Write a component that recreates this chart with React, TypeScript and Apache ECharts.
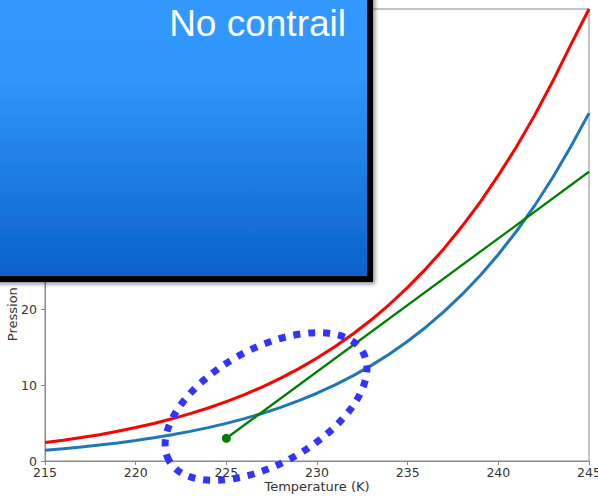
import React, { useEffect, useRef } from "react";
import * as echarts from "echarts";

// Temperature (K)
const temperatures = [
  215, 216, 217, 218, 219, 220, 221, 222, 223, 224, 225, 226, 227, 228, 229, 230,
  231, 232, 233, 234, 235, 236, 237, 238, 239, 240, 241, 242, 243, 244, 245,
];
// Saturation pressure over liquid water (red)
const liquidPressure = [
  2.45, 2.75, 3.1, 3.48, 3.92, 4.42, 4.96, 5.57, 6.25, 7.0, 7.84, 8.77, 9.8, 10.94,
  12.2, 13.6, 15.13, 16.8, 18.65, 20.7, 22.93, 25.38, 28.05, 31.0, 34.2, 37.72,
  41.5, 45.65, 50.15, 55.0, 59.7,
];
// Saturation pressure over ice (blue)
const icePressure = [
  1.43, 1.63, 1.85, 2.1, 2.38, 2.7, 3.06, 3.46, 3.91, 4.41, 4.97, 5.6, 6.3, 7.09,
  7.97, 8.95, 10.05, 11.27, 12.63, 14.14, 15.82, 17.67, 19.72, 22.0, 24.5, 27.28,
  30.34, 33.72, 37.44, 41.53, 45.95,
];
// Mixing line (green)
const mixingT = [225, 245];
const mixingP = [3.0, 38.2];

const xTicks = { min: 215, max: 245, interval: 5 };
const yTicks = { min: 0, max: 59.7, interval: 10 };

const xLabel = "Temperature (K)";
const yLabel = "Pression de vapeur saturante (Pa)";
const boxText = "No contrail";

export default function App() {
  const ref = useRef<HTMLDivElement>(null);

  useEffect(() => {
    if (!ref.current) return;
    const chart = echarts.init(ref.current, undefined, { renderer: "svg" });

    const liquidData = temperatures.map((t, i) => [t, liquidPressure[i]]);
    const iceData = temperatures.map((t, i) => [t, icePressure[i]]);
    const mixingData = mixingT.map((t, i) =>
      i === 0
        ? { value: [t, mixingP[i]], symbol: "circle", symbolSize: 9 }
        : { value: [t, mixingP[i]], symbol: "none" }
    );

    const axisColor = "#8a8a8a";
    const labelFont = "DejaVu Sans";

    chart.setOption({
      animation: false,
      backgroundColor: "#ffffff",
      grid: {
        left: 45,
        right: 9,
        top: 9,
        bottom: 36,
        containLabel: false,
        outerBoundsMode: "none",
        show: true,
        borderColor: axisColor,
        borderWidth: 1,
        backgroundColor: "transparent",
      },
      xAxis: {
        type: "value",
        min: xTicks.min,
        max: xTicks.max,
        interval: xTicks.interval,
        name: xLabel,
        nameLocation: "middle",
        nameGap: 19,
        nameMoveOverlap: false,
        nameTextStyle: { fontFamily: labelFont, fontSize: 13, color: "#333" },
        axisLine: { show: true, lineStyle: { color: axisColor, width: 1 } },
        axisTick: { show: true, length: 4, lineStyle: { color: axisColor } },
        axisLabel: {
          fontFamily: labelFont,
          fontSize: 12.5,
          color: "#333",
          margin: 5,
        },
        splitLine: { show: false },
      },
      yAxis: {
        type: "value",
        min: yTicks.min,
        max: yTicks.max,
        interval: yTicks.interval,
        name: yLabel,
        nameLocation: "middle",
        nameGap: 26,
        nameMoveOverlap: false,
        nameTextStyle: {
          fontFamily: labelFont,
          fontSize: 13,
          color: "#333",
          padding: [0, 0, 0, 8],
        },
        axisLine: { show: true, lineStyle: { color: axisColor, width: 1 } },
        axisTick: { show: true, length: 4, lineStyle: { color: axisColor } },
        axisLabel: {
          fontFamily: labelFont,
          fontSize: 12.5,
          color: "#333",
          margin: 8,
          showMaxLabel: false,
        },
        splitLine: { show: false },
      },
      series: [
        {
          type: "line",
          data: liquidData,
          showSymbol: false,
          symbol: "none",
          lineStyle: { color: "#ff0000", width: 3 },
          z: 3,
        },
        {
          type: "line",
          data: iceData,
          showSymbol: false,
          symbol: "none",
          lineStyle: { color: "#1f77b4", width: 3 },
          z: 2,
        },
        {
          type: "line",
          data: mixingData,
          showSymbol: true,
          itemStyle: { color: "#008000" },
          lineStyle: { color: "#008000", width: 2.3 },
          z: 4,
        },
      ],
      graphic: [
        {
          type: "ellipse",
          x: 266,
          y: 406.5,
          rotation: 0.51,
          shape: { cx: 0, cy: 0, rx: 111, ry: 57.5 },
          style: {
            fill: "none",
            stroke: "#3333ff",
            lineWidth: 7,
            lineDash: [7, 8],
            lineCap: "butt",
          },
          z: 100,
        },
        {
          type: "rect",
          x: -10,
          y: -10,
          shape: { x: 0, y: 0, width: 380, height: 289 },
          style: {
            fill: {
              type: "linear",
              x: 0,
              y: 0,
              x2: 0,
              y2: 1,
              colorStops: [
                { offset: 0, color: "#3399ff" },
                { offset: 0.3, color: "#3196fb" },
                { offset: 1, color: "#0862c8" },
              ],
            },
            stroke: "#000000",
            lineWidth: 6,
            shadowBlur: 4,
            shadowColor: "rgba(0,0,0,0.45)",
            shadowOffsetX: 2,
            shadowOffsetY: 2,
          },
          z: 101,
        },
        {
          type: "text",
          x: 346,
          y: 23,
          style: {
            text: boxText,
            fill: "#ffffff",
            fontFamily: "Liberation Sans, Arial, sans-serif",
            fontSize: 37,
            align: "right",
            verticalAlign: "middle",
          },
          z: 102,
        },
      ],
    });

    return () => chart.dispose();
  }, []);

  return (
    <div
      ref={ref}
      style={{ position: "fixed", left: 0, top: 0, width: 598, height: 497 }}
    />
  );
}
